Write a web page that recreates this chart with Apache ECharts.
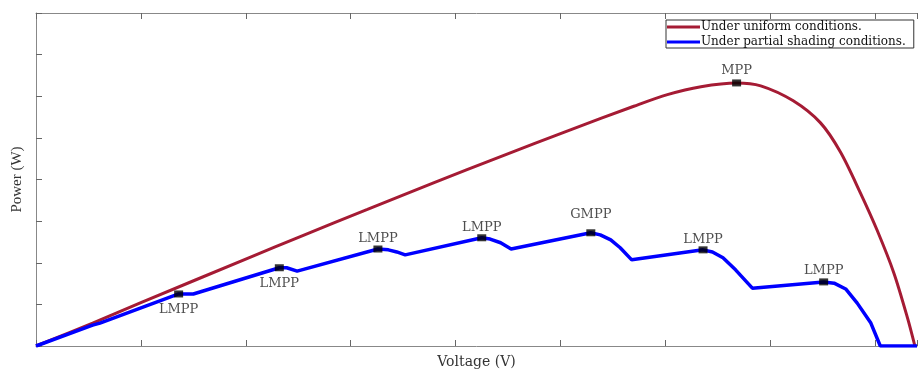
<!DOCTYPE html>
<html>
<head>
<meta charset="utf-8">
<script src="https://cdn.jsdelivr.net/npm/echarts@6/dist/echarts.min.js"></script>
<style>
  html, body { margin: 0; padding: 0; background: #fff; }
  #chartDom { width: 918px; height: 370px; }
</style>
</head>
<body>
<div id="chartDom"></div>
<script>
// uniform irradiance P-V curve (red)
const voltUniform = [0, 0.54, 1.0, 2.04, 2.52, 3.16, 3.79, 4.43, 5.07, 5.70, 6.02, 6.34, 6.68, 6.91, 7.22, 7.48, 7.67, 7.86, 8.02, 8.18, 8.31, 8.38];
const powUniform  = [0, 0.55, 1.04, 2.13, 2.63, 3.28, 3.92, 4.55, 5.17, 5.76, 6.04, 6.23, 6.32, 6.25, 5.89, 5.36, 4.66, 3.68, 2.78, 1.75, 0.67, 0];
// partial shading P-V curve (blue)
const voltShaded = [0, 0.54, 0.61, 1.36, 1.50, 2.32, 2.39, 2.49, 3.26, 3.36, 3.44, 3.52, 4.25, 4.33, 4.43, 4.53, 5.29, 5.38, 5.48, 5.57, 5.68, 6.36, 6.45, 6.55, 6.67, 6.83, 7.51, 7.61, 7.72, 7.83, 7.96, 8.05, 8.40];
const powShaded  = [0, 0.50, 0.55, 1.25, 1.25, 1.88, 1.88, 1.80, 2.33, 2.31, 2.26, 2.19, 2.60, 2.57, 2.48, 2.33, 2.72, 2.67, 2.55, 2.36, 2.07, 2.31, 2.26, 2.12, 1.83, 1.39, 1.54, 1.51, 1.37, 1.03, 0.55, 0, 0];
// marked peaks
const peakNames = ['LMPP', 'LMPP', 'LMPP', 'LMPP', 'GMPP', 'LMPP', 'LMPP', 'MPP'];
const peakV     = [1.36, 2.32, 3.26, 4.25, 5.29, 6.36, 7.51, 6.68];
const peakP     = [1.25, 1.88, 2.33, 2.60, 2.72, 2.31, 1.54, 6.32];
const peakSide  = ['bottom', 'bottom', 'top', 'top', 'top', 'top', 'top', 'top'];
const peakGap   = [6, 6, 0, 0, 8, 0, 1, 2];

const serif = 'Liberation Serif';
const wideSerif = 'DejaVu Serif';
let chart = echarts.init(document.getElementById('chartDom'));

const zip = (xs, ys) => xs.map((x, i) => [x, ys[i]]);

chart.setOption({
  animation: false,
  grid: { left: 36, right: 1, top: 13, bottom: 24, outerBoundsMode: 'none' },
  legend: {
    left: 666,
    top: 20,
    orient: 'vertical',
    icon: 'rect',
    itemWidth: 33,
    itemHeight: 3,
    itemGap: 3,
    padding: [1, 8, 0, 1],
    borderColor: '#333',
    borderWidth: 1,
    textStyle: { fontFamily: wideSerif, fontSize: 12, color: '#111', padding: [0, 0, 0, -4] },
    data: ['Under uniform conditions.', 'Under partial shading conditions.']
  },
  xAxis: [
    {
      type: 'value', min: 0, max: 8.4, interval: 1,
      name: 'Voltage (V)', nameLocation: 'middle', nameGap: 9,
      nameTextStyle: { fontFamily: wideSerif, fontSize: 14, color: '#333' },
      axisLine: { lineStyle: { color: '#888' } },
      axisTick: { inside: true, length: 6, lineStyle: { color: '#666' } },
      axisLabel: { show: false },
      splitLine: { show: false }
    },
    {
      type: 'value', position: 'top', min: 0, max: 8.4, interval: 1,
      axisLine: { show: true, lineStyle: { color: '#888' } },
      axisTick: { inside: true, length: 6, lineStyle: { color: '#666' } },
      axisLabel: { show: false },
      splitLine: { show: false }
    }
  ],
  yAxis: {
    type: 'value', min: 0, max: 8, interval: 1,
    name: 'Power (W)', nameLocation: 'middle', nameGap: 11, nameRotate: 90,
    nameTextStyle: { fontFamily: serif, fontSize: 15, color: '#333' },
    axisLine: { show: true, lineStyle: { color: '#888' } },
    axisTick: { inside: true, length: 6, lineStyle: { color: '#666' } },
    axisLabel: { show: false },
    splitLine: { show: false }
  },
  series: [
    {
      name: 'Under uniform conditions.',
      type: 'line',
      showSymbol: false,
      smooth: 0.3,
      itemStyle: { color: '#a51b34' },
      lineStyle: { width: 3, color: '#a51b34' },
      data: zip(voltUniform, powUniform)
    },
    {
      name: 'Under partial shading conditions.',
      type: 'line',
      showSymbol: false,
      itemStyle: { color: '#0000ff' },
      lineStyle: { width: 3.5, color: '#0000ff' },
      data: zip(voltShaded, powShaded)
    },
    {
      name: 'peaks',
      type: 'scatter',
      symbol: 'rect',
      symbolSize: [9, 7],
      z: 5,
      itemStyle: { color: '#000' },
      label: { show: true, fontFamily: wideSerif, fontSize: 13, color: '#222', formatter: p => p.name },
      data: peakNames.map((n, i) => ({
        name: n,
        value: [peakV[i], peakP[i]],
        label: { position: peakSide[i], distance: peakGap[i] }
      }))
    }
  ]
});
</script>
</body>
</html>
